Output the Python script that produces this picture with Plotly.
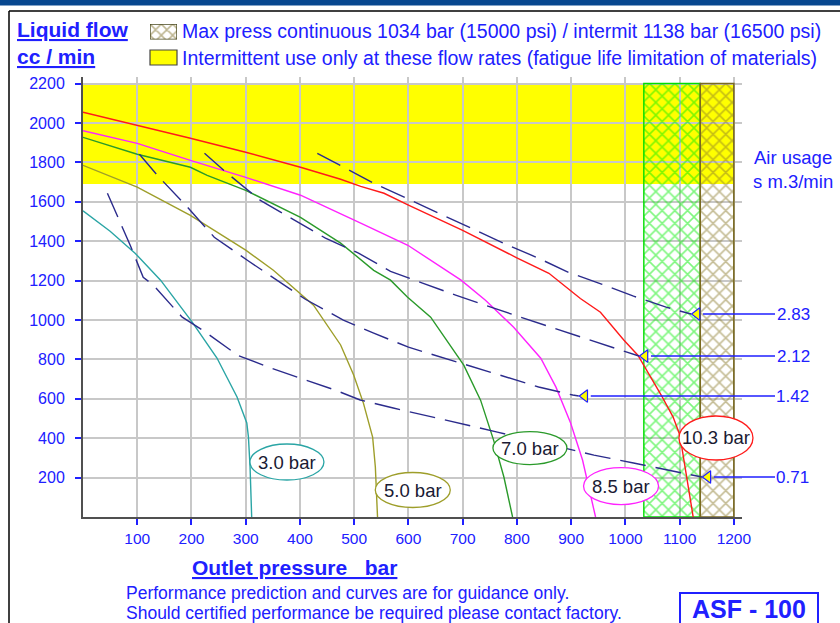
import plotly.graph_objects as go

# ---------------- data ----------------
# liquid-flow curves for each air drive pressure: outlet pressure (bar) vs flow (cc/min)
p30_x = [0, 50, 96, 143, 201, 247, 284, 302, 305, 308, 311]
p30_y = [1554, 1450, 1339, 1202, 990, 807, 609, 477, 406, 254, 0]

p50_x = [0, 100, 198, 300, 351, 425, 475, 499, 517, 534, 539, 543]
p50_y = [1785, 1674, 1531, 1354, 1252, 1075, 873, 721, 578, 406, 254, 0]

p70_x = [0, 100, 198, 229, 300, 345, 401, 475, 536, 567, 598, 641, 702, 733, 757, 776, 792]
p70_y = [1927, 1841, 1775, 1734, 1658, 1597, 1521, 1390, 1252, 1202, 1116, 1014, 771, 593, 390, 203, 0]

p85_x = [0, 100, 198, 300, 401, 475, 512, 599, 697, 742, 794, 844, 872, 899, 921, 945]
p85_y = [1960, 1896, 1810, 1724, 1633, 1541, 1491, 1379, 1202, 1100, 963, 806, 659, 477, 289, 0]

p103_x = [0, 100, 198, 300, 401, 475, 512, 555, 601, 700, 798, 859, 917, 954, 997, 1023, 1066, 1088, 1099, 1104, 1112, 1125]
p103_y = [2054, 1988, 1922, 1851, 1775, 1714, 1678, 1643, 1582, 1455, 1318, 1237, 1109, 1039, 898, 821, 619, 507, 426, 355, 223, 0]

press_labels = ["3.0 bar", "5.0 bar", "7.0 bar", "8.5 bar", "10.3 bar"]

# air usage contours (s m.3/min)
a283_x = [432, 478, 536, 596, 656, 716, 776, 836, 895, 956, 1015, 1075, 1121]
a283_y = [1846, 1780, 1694, 1618, 1542, 1466, 1389, 1318, 1242, 1182, 1121, 1065, 1030]

a212_x = [224, 266, 327, 386, 447, 508, 567, 626, 687, 807, 927, 986, 1025]
a212_y = [1846, 1744, 1607, 1511, 1415, 1339, 1247, 1187, 1126, 1014, 908, 852, 817]

a142_x = [104, 137, 191, 242, 303, 362, 410, 480, 536, 600, 783, 840, 903, 914]
a142_y = [1841, 1734, 1577, 1420, 1303, 1192, 1105, 999, 933, 862, 710, 660, 619, 614]

a071_x = [45, 63, 87, 111, 130, 166, 183, 226, 285, 346, 401, 465, 511, 572, 764, 942, 1015, 1141]
a071_y = [1643, 1531, 1379, 1217, 1176, 1065, 1014, 938, 821, 756, 705, 644, 594, 553, 431, 314, 274, 203]

air_labels = ["2.83", "2.12", "1.42", "0.71"]

# limits
cont_max = 1034      # bar, continuous
interm_max = 1138    # bar, intermittent
hatch_end = 1200
interm_flow = 1690   # cc/min, above this intermittent only
flow_top = 2200

x_ticks = [100, 200, 300, 400, 500, 600, 700, 800, 900, 1000, 1100, 1200]
y_ticks = [200, 400, 600, 800, 1000, 1200, 1400, 1600, 1800, 2000, 2200]

# ---------------- layout geometry ----------------
W, H = 840, 623
PX_L, PX_R, PX_T, PX_B = 83, 742, 77, 517
X_RANGE = [0, 1215]
Y_RANGE = [0, 2233]
px_per_x = (PX_R - PX_L) / (X_RANGE[1] - X_RANGE[0])
px_per_y = (PX_B - PX_T) / (Y_RANGE[1] - Y_RANGE[0])

BLUE = "#2020ff"
FONT = "Arial, Liberation Sans, sans-serif"


def px(xp):
    return xp / W


def py(yp):
    return 1 - yp / H


fig = go.Figure()

# hatched pressure limit bands
fig.add_trace(go.Scatter(
    x=[cont_max, interm_max, interm_max, cont_max, cont_max],
    y=[0, 0, flow_top, flow_top, 0],
    mode="lines", fill="toself", fillcolor="rgba(0,0,0,0)",
    fillpattern=dict(shape="x", fgcolor="#00ee00", bgcolor="rgba(0,0,0,0)", size=9, solidity=0.32),
    line=dict(color="#00dd00", width=1.4), hoverinfo="skip", showlegend=False))
fig.add_trace(go.Scatter(
    x=[interm_max, hatch_end, hatch_end, interm_max, interm_max],
    y=[0, 0, flow_top, flow_top, 0],
    mode="lines", fill="toself", fillcolor="rgba(0,0,0,0)",
    fillpattern=dict(shape="x", fgcolor="#8a7a2a", bgcolor="rgba(0,0,0,0)", size=9, solidity=0.32),
    line=dict(color="#7a6a20", width=1.6), hoverinfo="skip", showlegend=False))

# pressure curves
curves = [
    (p30_x, p30_y, "#2aa5a5"),
    (p50_x, p50_y, "#9e9e2a"),
    (p70_x, p70_y, "#2a9a2a"),
    (p85_x, p85_y, "#ff22ff"),
    (p103_x, p103_y, "#ff1a1a"),
]
for xs, ys, c in curves:
    fig.add_trace(go.Scatter(x=xs, y=ys, mode="lines", line=dict(color=c, width=1.4),
                             hoverinfo="skip", showlegend=False))

# air usage contours
airs = [(a283_x, a283_y), (a212_x, a212_y), (a142_x, a142_y), (a071_x, a071_y)]
for xs, ys in airs:
    fig.add_trace(go.Scatter(x=xs, y=ys, mode="lines",
                             line=dict(color="#2b2b8c", width=1.4, dash="26px,10px"),
                             hoverinfo="skip", showlegend=False))

# yellow arrow heads at the end of each air contour
fig.add_trace(go.Scatter(
    x=[xs[-1] + 6 / px_per_x for xs, ys in airs],
    y=[ys[-1] for xs, ys in airs],
    mode="markers", cliponaxis=False,
    marker=dict(symbol="triangle-left", size=11, color="#ffff00", line=dict(color=BLUE, width=1.2)),
    hoverinfo="skip", showlegend=False))

# legend icon (hatched) on its own tiny axes
fig.add_trace(go.Scatter(
    x=[0, 1, 1, 0, 0], y=[0, 0, 1, 1, 0], xaxis="x2", yaxis="y2",
    mode="lines", fill="toself", fillcolor="white",
    fillpattern=dict(shape="x", fgcolor="#7a6a20", bgcolor="white", size=8, solidity=0.35),
    line=dict(color="#4a4a20", width=1.4), hoverinfo="skip", showlegend=False))

shapes = []
# yellow intermittent zone (below gridlines)
shapes.append(dict(type="rect", xref="x", yref="y", x0=0, x1=hatch_end, y0=interm_flow, y1=flow_top,
                   fillcolor="#ffff00", line=dict(width=0), layer="below"))

# ellipses around pressure labels (paper-anchored so they are not clipped at the plot edge)
label_pos = [(376, 279), (608, 137), (824, 350), (992, 157), (1167, 401)]
label_size = [(74, 36), (75, 35), (74, 33), (75, 37), (74, 44)]
for (cx, cy), (w, h), (_, _, c) in zip(label_pos, label_size, curves):
    ax_p = px(PX_L + cx * px_per_x)
    ay_p = py(PX_B - cy * px_per_y)
    shapes.append(dict(type="circle", xref="paper", yref="paper", xsizemode="pixel", ysizemode="pixel",
                       xanchor=ax_p, yanchor=ay_p, x0=-w / 2, x1=w / 2, y0=-h / 2, y1=h / 2,
                       fillcolor="white", line=dict(color=c, width=1.3), layer="above"))

# frame
shapes.append(dict(type="rect", xref="paper", yref="paper", x0=0, x1=1, y0=py(5.5), y1=1,
                   fillcolor="#07478f", line=dict(width=0)))
shapes.append(dict(type="line", xref="paper", yref="paper", x0=px(9), x1=1, y0=py(11), y1=py(11),
                   line=dict(color="black", width=1.5)))
shapes.append(dict(type="line", xref="paper", yref="paper", x0=px(9), x1=px(9), y0=py(11), y1=py(H + 5),
                   line=dict(color="black", width=1.5)))
# yellow legend icon
shapes.append(dict(type="rect", xref="paper", yref="paper", x0=px(150), x1=px(177), y0=py(65), y1=py(50),
                   fillcolor="#ffff00", line=dict(color="#444444", width=1.2)))
# ASF box
shapes.append(dict(type="rect", xref="paper", yref="paper", x0=px(680), x1=px(818), y0=py(H + 5), y1=py(593),
                   fillcolor="white", line=dict(color=BLUE, width=2)))

annotations = []
for (cx, cy), lab in zip(label_pos, press_labels):
    annotations.append(dict(x=cx, y=cy, xref="x", yref="y", text=lab, showarrow=False,
                            font=dict(family=FONT, size=18.5, color="#1a1a33")))

for lab, (xs, ys) in zip(air_labels, airs):
    tip_px = PX_L + xs[-1] * px_per_x
    annotations.append(dict(x=xs[-1], y=ys[-1], xref="x", yref="y", text=lab, showarrow=True,
                            arrowhead=0, arrowwidth=1.6, arrowcolor=BLUE, ax=793 - tip_px, ay=0,
                            standoff=12, font=dict(family=FONT, size=17, color=BLUE)))

annotations += [
    dict(x=px(15), y=py(30), xref="paper", yref="paper", xanchor="left", yanchor="middle",
         text="<b><u>Liquid flow</u></b>", showarrow=False, font=dict(family=FONT, size=21, color=BLUE)),
    dict(x=px(15), y=py(56), xref="paper", yref="paper", xanchor="left", yanchor="middle",
         text="<b><u>cc / min</u></b>", showarrow=False, font=dict(family=FONT, size=21, color=BLUE)),
    dict(x=px(180), y=py(31), xref="paper", yref="paper", xanchor="left", yanchor="middle",
         text="Max press continuous 1034 bar (15000 psi) / intermit 1138 bar (16500 psi)",
         showarrow=False, font=dict(family=FONT, size=19.5, color=BLUE)),
    dict(x=px(180), y=py(58), xref="paper", yref="paper", xanchor="left", yanchor="middle",
         text="Intermittent use only at these flow rates (fatigue life limitation of materials)",
         showarrow=False, font=dict(family=FONT, size=19.5, color=BLUE)),
    dict(x=px(793), y=py(170), xref="paper", yref="paper", xanchor="center", yanchor="middle",
         text="Air usage<br>s m.3/min", showarrow=False, align="center",
         font=dict(family=FONT, size=18.5, color=BLUE)),
    dict(x=px(190), y=py(567), xref="paper", yref="paper", xanchor="left", yanchor="middle",
         text="<b><u>Outlet pressure\u00a0\u00a0\u00a0bar</u></b>", showarrow=False,
         font=dict(family=FONT, size=21, color=BLUE)),
    dict(x=px(124), y=py(593), xref="paper", yref="paper", xanchor="left", yanchor="middle",
         text="Performance prediction and curves are for guidance only.", showarrow=False,
         font=dict(family=FONT, size=17.5, color=BLUE)),
    dict(x=px(124), y=py(613), xref="paper", yref="paper", xanchor="left", yanchor="middle",
         text="Should certified performance be required please contact factory.", showarrow=False,
         font=dict(family=FONT, size=17.5, color=BLUE)),
    dict(x=px(749), y=py(609), xref="paper", yref="paper", xanchor="center", yanchor="middle",
         text="<b>ASF - 100</b>", showarrow=False, font=dict(family=FONT, size=25, color=BLUE)),
]

fig.update_layout(
    width=W, height=H, margin=dict(l=0, r=0, t=0, b=0, pad=0),
    paper_bgcolor="white", plot_bgcolor="white", showlegend=False,
    shapes=shapes, annotations=annotations,
    xaxis=dict(domain=[PX_L / W, PX_R / W], range=X_RANGE, tickvals=x_ticks,
               showgrid=True, gridcolor="#c8c8c8", gridwidth=1.5, zeroline=False,
               showline=True, linecolor="#505050", linewidth=2,
               ticks="outside", ticklen=6, tickwidth=1.5, tickcolor=BLUE, ticklabelstandoff=0,
               tickfont=dict(family=FONT, size=15.5, color=BLUE), automargin=False, fixedrange=True),
    yaxis=dict(domain=[1 - PX_B / H, 1 - PX_T / H], range=Y_RANGE, tickvals=y_ticks,
               showgrid=True, gridcolor="#c8c8c8", gridwidth=1.5, zeroline=False,
               showline=True, linecolor="#505050", linewidth=2,
               ticks="outside", ticklen=6, tickwidth=1.5, tickcolor=BLUE, ticklabelstandoff=7,
               tickfont=dict(family=FONT, size=16, color=BLUE), automargin=False, fixedrange=True),
    xaxis2=dict(domain=[150 / W, 177 / W], range=[0, 1], visible=False, fixedrange=True),
    yaxis2=dict(domain=[1 - 39.5 / H, 1 - 24 / H], range=[0, 1], visible=False, fixedrange=True),
)

# the page body has a default 8px margin; remove it so the figure fills the window
fig.write_html("out.html", config={"displayModeBar": False},
               post_script="document.body.style.margin='0';document.body.style.overflow='hidden';")
